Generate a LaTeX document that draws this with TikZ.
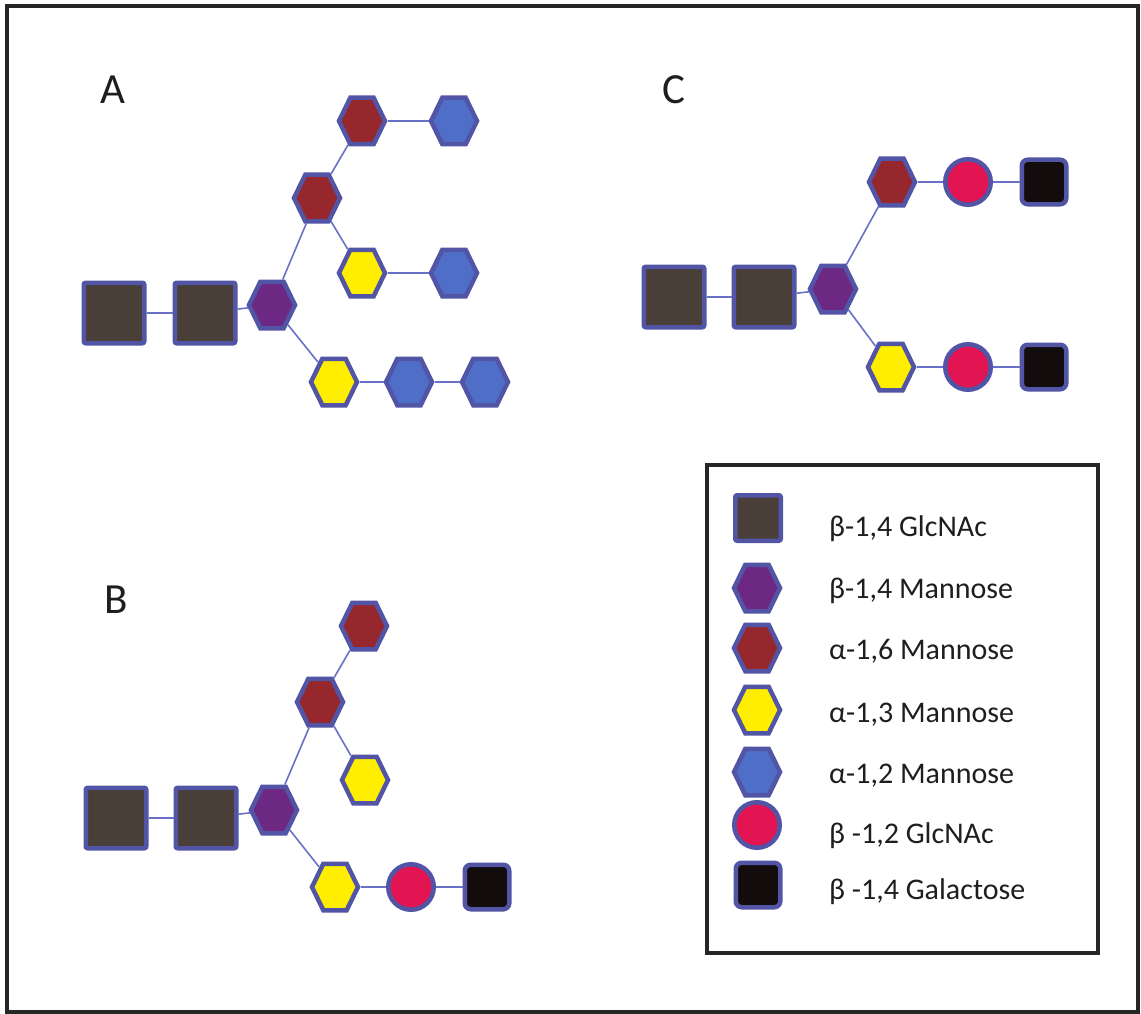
\documentclass[tikz,border=0pt]{standalone}
\usepackage{fontspec}
\setmainfont{Carlito}
\usetikzlibrary{positioning, shapes.symbols}
\definecolor{rim}{RGB}{82,84,165}
\definecolor{link}{RGB}{104,112,200}
\definecolor{glcnac}{RGB}{74,62,56}
\definecolor{betaman}{RGB}{108,40,130}
\definecolor{alphasix}{RGB}{150,40,45}
\definecolor{alphathree}{RGB}{255,238,0}
\definecolor{alphatwo}{RGB}{78,110,200}
\definecolor{glcnactwo}{RGB}{226,20,82}
\definecolor{galac}{RGB}{18,12,12}
\definecolor{ink}{RGB}{30,30,30}

\begin{document}
\begin{tikzpicture}[x=1pt,y=-1pt,node distance=76pt,on grid]
    \tikzstyle{sugar}=[draw=rim, line width=4.5pt, inner sep=0pt]
    \tikzstyle{bigsq}=[sugar, shape=rectangle, rounded corners=2pt, minimum size=60.5pt, fill=glcnac]
    \tikzstyle{hexa}=[sugar, shape=signal, signal to=east and west, signal pointer angle=128, minimum width=46pt, minimum height=46.5pt]
    \tikzstyle{core}=[hexa, fill=betaman]
    \tikzstyle{six}=[hexa, fill=alphasix]
    \tikzstyle{three}=[hexa, fill=alphathree]
    \tikzstyle{two}=[hexa, fill=alphatwo]
    \tikzstyle{glc}=[sugar, shape=circle, minimum size=45.5pt, fill=glcnactwo]
    \tikzstyle{gal}=[sugar, shape=rectangle, rounded corners=6pt, minimum size=44.5pt, fill=galac]
    \tikzstyle{panel}=[text=ink, inner sep=0pt, font=\fontsize{43}{43}\selectfont]
    \tikzstyle{entry}=[text=ink, inner sep=0pt, anchor=base west, font=\fontsize{30}{34}\selectfont]

    \useasboundingbox (0,0) rectangle (1141,1014);
    \draw[line width=4pt, black!85] (7,6) rectangle (1138,1012);

    % panel A
    \node[panel] (LA) at (113,90) {A};
    \node[bigsq] (A1) at (114,313) {};
    \node[bigsq, right=91pt of A1] (A2) {};
    \node[core, above right=8pt and 67pt of A2] (A3) {};
    \node[six, above right=107pt and 45pt of A3] (A4) {};
    \node[six, above right=77pt and 45pt of A4] (A5) {};
    \node[two, right=92pt of A5] (A6) {};
    \node[three, below right=75pt and 45pt of A4] (A7) {};
    \node[two, right=92pt of A7] (A8) {};
    \node[three, below right=77pt and 62pt of A3] (A9) {};
    \node[two, right=75pt of A9] (A10) {};
    \node[two, right of=A10] (A11) {};

    % panel C
    \node[panel] (LC) at (674,90) {C};
    \node[bigsq] (C1) at (674,297) {};
    \node[bigsq, right=90pt of C1] (C2) {};
    \node[core, above right=8pt and 69pt of C2] (C3) {};
    \node[six, above right=107pt and 59pt of C3] (C4) {};
    \node[glc, right of=C4] (C5) {};
    \node[gal, right of=C5] (C6) {};
    \node[three, below right=78pt and 58pt of C3] (C7) {};
    \node[glc, right=77pt of C7] (C8) {};
    \node[gal, right of=C8] (C9) {};

    % panel B
    \node[panel] (LB) at (116,600) {B};
    \node[bigsq] (B1) at (116,818) {};
    \node[bigsq, right=90pt of B1] (B2) {};
    \node[core, above right=8pt and 68pt of B2] (B3) {};
    \node[six, above right=108pt and 46pt of B3] (B4) {};
    \node[six, above right=76pt and 44pt of B4] (B5) {};
    \node[three, below right=78pt and 45pt of B4] (B6) {};
    \node[three, below right=77pt and 61pt of B3] (B7) {};
    \node[glc, right of=B7] (B8) {};
    \node[gal, right of=B8] (B9) {};

    \path[draw, link, line width=1.6pt]
    (A1) edge (A2) (A2) edge (A3)
    (A3) edge (A4) (A4) edge (A5) (A5) edge (A6)
    (A4) edge (A7) (A7) edge (A8)
    (A3) edge (A9) (A9) edge (A10) (A10) edge (A11)
    (C1) edge (C2) (C2) edge (C3)
    (C3) edge (C4) (C4) edge (C5) (C5) edge (C6)
    (C3) edge (C7) (C7) edge (C8) (C8) edge (C9)
    (B1) edge (B2) (B2) edge (B3)
    (B3) edge (B4) (B4) edge (B5) (B4) edge (B6)
    (B3) edge (B7) (B7) edge (B8) (B8) edge (B9)
    ;

    % legend
    \draw[line width=4pt, black!85] (707,465) rectangle (1098,953);
    \node[bigsq, minimum size=45.5pt] (K1) at (758,518) {};
    \node[core] (K2) at (757,588) {};
    \node[six] (K3) at (757,648) {};
    \node[three] (K4) at (757,710) {};
    \node[two] (K5) at (757,772) {};
    \node[glc] (K6) at (757,825) {};
    \node[gal] (K7) at (758,885) {};
    \node[entry] (T1) at (829,536) {β-1,4 GlcNAc};
    \node[entry] (T2) at (829,598) {β-1,4 Mannose};
    \node[entry] (T3) at (829,659) {α-1,6 Mannose};
    \node[entry] (T4) at (829,722) {α-1,3 Mannose};
    \node[entry] (T5) at (829,783) {α-1,2 Mannose};
    \node[entry] (T6) at (829,843) {β -1,2 GlcNAc};
    \node[entry] (T7) at (829,899) {β -1,4 Galactose};
\end{tikzpicture}
\end{document}
